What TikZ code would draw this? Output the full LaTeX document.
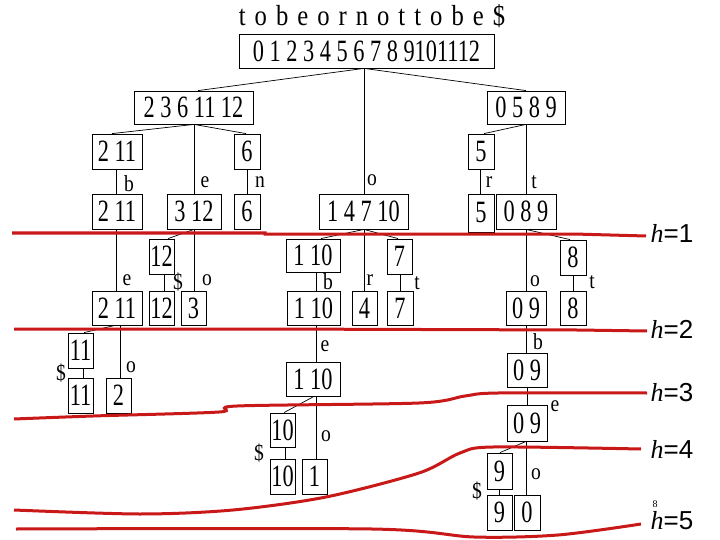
\documentclass[tikz,border=0pt]{standalone}
\usepackage{fontspec}
\setmainfont{Liberation Serif}
\newfontfamily\nf[FakeStretch=0.72]{Liberation Serif}
\newfontfamily\lf[FakeStretch=0.85]{Liberation Serif}
\newfontfamily\hsf{Liberation Sans}
\definecolor{hred}{HTML}{C81818}
\newcommand\tsp{\hspace{9pt}}
\tikzset{
 bxs/.style={draw,inner sep=0pt,font=\nf\fontsize{31}{31}\selectfont,line width=0.8pt},
 lbl/.style={font=\lf\fontsize{23}{23}\selectfont,inner sep=0pt},
 ed/.style={line width=0.7pt},
 hl/.style={hred,line width=3pt},
 hlab/.style={font=\fontsize{26}{26}\selectfont,inner sep=0pt}
}
\newcommand\bx[6]{\node[bxs,minimum width={(#4-#2)*1pt},minimum height={(#5-#3)*1pt}] (#1) at ({(#2+#4)/2},{(#3+#5)/2}) {#6};}
\begin{document}
\begin{tikzpicture}[x=1pt,y=-1pt]
\useasboundingbox (0,0) rectangle (720,540);
\node[inner sep=0pt,font=\lf\fontsize{29}{29}\selectfont] (title) at (372,16) {t\tsp o\tsp b\tsp e\tsp o\tsp r\tsp n\tsp o\tsp t\tsp t\tsp o\tsp b\tsp e\tsp\$};
\bx{root}{239}{34}{494}{68}{0 1 2 3 4 5 6 7 8 9101112}
\bx{A}{134}{91}{253}{124}{2 3 6 11 12}
\bx{B}{487}{91}{565}{124}{0 5 8 9}
\bx{a1}{92}{134}{142}{169}{2 11}
\bx{a6}{234}{134}{260}{169}{6}
\bx{b5}{468}{134}{494}{169}{5}
\bx{c1}{92}{194}{142}{229}{2 11}
\bx{c2}{167}{194}{221}{229}{3 12}
\bx{c3}{234}{194}{260}{229}{6}
\bx{c4}{319}{194}{408}{229}{1 4 7 10}
\bx{c5}{468}{194}{494}{232}{5}
\bx{c6}{496}{194}{556}{229}{0 8 9}
\bx{d1}{149}{239}{174}{274}{12}
\bx{d2}{286}{239}{340}{272}{1 10}
\bx{d3}{387}{239}{412}{274}{7}
\bx{d4}{560}{240}{586}{275}{8}
\bx{e1}{92}{291}{142}{325}{2 11}
\bx{e2}{149}{291}{174}{325}{12}
\bx{e3}{181}{291}{206}{325}{3}
\bx{e4}{287}{291}{340}{325}{1 10}
\bx{e5}{352}{291}{377}{325}{4}
\bx{e6}{387}{291}{413}{325}{7}
\bx{e7}{506}{291}{546}{325}{0 9}
\bx{e8}{560}{291}{586}{325}{8}
\bx{f1}{68}{333}{93}{368}{11}
\bx{f2}{68}{378}{93}{413}{11}
\bx{f3}{106}{378}{131}{413}{2}
\bx{g1}{286}{362}{340}{396}{1 10}
\bx{g2}{270}{413}{295}{447}{10}
\bx{g3}{270}{459}{295}{494}{10}
\bx{g4}{302}{459}{327}{494}{1}
\bx{r1}{507}{353}{547}{387}{0 9}
\bx{r2}{507}{405}{547}{441}{0 9}
\bx{r3}{487}{453}{512}{489}{9}
\bx{r4}{487}{495}{512}{530}{9}
\bx{r5}{514}{495}{540}{530}{0}
% edges
\draw[ed] (root.south -| 364,0) -- (A.north -| 198,0);
\draw[ed] (root.south -| 364,0) -- (B.north -| 526,0);
\draw[ed] (root.south -| 364,0) -- (c4.north -| 364,0);
\draw[ed] (A.south -| 194,0) -- (a1.north -| 112,0);
\draw[ed] (A.south -| 194,0) -- (c2.north -| 194,0);
\draw[ed] (A.south -| 194,0) -- (a6.north -| 246,0);
\draw[ed] (B.south -| 526,0) -- (b5.north -| 484,0);
\draw[ed] (B.south -| 526,0) -- (c6.north -| 526,0);
\draw[ed] (a1.south -| 116,0) -- (c1.north -| 116,0);
\draw[ed] (a6.south -| 247,0) -- (c3.north -| 247,0);
\draw[ed] (b5.south -| 480,0) -- (c5.north -| 480,0);
\draw[ed] (c1.south -| 116,0) -- (e1.north -| 116,0);
\draw[ed] (c2.south -| 194,0) -- (d1.north -| 168,0);
\draw[ed] (c2.south -| 194,0) -- (e3.north -| 194,0);
\draw[ed] (c4.south -| 364,0) -- (d2.north -| 321,0);
\draw[ed] (c4.south -| 364,0) -- (d3.north -| 398,0);
\draw[ed] (c4.south -| 364,0) -- (e5.north -| 364,0);
\draw[ed] (c6.south -| 526,0) -- (d4.north -| 570,0);
\draw[ed] (c6.south -| 526,0) -- (e7.north -| 526,0);
\draw[ed] (d1.south -| 164,0) -- (e2.north -| 164,0);
\draw[ed] (d2.south -| 316,0) -- (e4.north -| 316,0);
\draw[ed] (d3.south -| 400,0) -- (e6.north -| 400,0);
\draw[ed] (d4.south -| 573,0) -- (e8.north -| 573,0);
\draw[ed] (e1.south -| 115,0) -- (f1.north -| 84,0);
\draw[ed] (e1.south -| 120,0) -- (f3.north -| 120,0);
\draw[ed] (f1.south -| 83,0) -- (f2.north -| 83,0);
\draw[ed] (e4.south -| 316,0) -- (g1.north -| 316,0);
\draw[ed] (g1.south -| 314,0) -- (g2.north -| 284,0);
\draw[ed] (g1.south -| 316,0) -- (g4.north -| 316,0);
\draw[ed] (g2.south -| 285,0) -- (g3.north -| 285,0);
\draw[ed] (e7.south -| 526,0) -- (r1.north -| 526,0);
\draw[ed] (r1.south -| 527,0) -- (r2.north -| 527,0);
\draw[ed] (r2.south -| 526,0) -- (r3.north -| 500,0);
\draw[ed] (r2.south -| 526,0) -- (r5.north -| 526,0);
\draw[ed] (r3.south -| 499,0) -- (r4.north -| 499,0);
% edge labels
\node[lbl] (l1) at (129,184) {b};
\node[lbl] (l2) at (205,182) {e};
\node[lbl] (l3) at (260,182) {n};
\node[lbl] (l4) at (372,180) {o};
\node[lbl] (l5) at (489,182) {r};
\node[lbl] (l6) at (534,182) {t};
\node[lbl] (l7) at (127,280) {e};
\node[lbl] (l8) at (178,282) {\$};
\node[lbl] (l9) at (207,280) {o};
\node[lbl] (l10) at (328,282) {b};
\node[lbl] (l11) at (370,280) {r};
\node[lbl] (l12) at (417,283) {t};
\node[lbl] (l13) at (535,281) {o};
\node[lbl] (l14) at (592,282) {t};
\node[lbl] (l15) at (61,373) {\$};
\node[lbl] (l16) at (131,367) {o};
\node[lbl] (l17) at (325,346) {e};
\node[lbl] (l18) at (259,453) {\$};
\node[lbl] (l19) at (326,436) {o};
\node[lbl] (l20) at (538,342) {b};
\node[lbl] (l21) at (555,406) {e};
\node[lbl] (l22) at (477,491) {\$};
\node[lbl] (l23) at (536,474) {o};
% h lines
\draw[hl] (12,233) -- (265,233) -- (265,234) -- (574,234) -- (646,236);
\draw[hl] (14,329) -- (267,329) -- (577,330) -- (647,331);
\draw[hl] plot[smooth,tension=0.5] coordinates {(14,419) (93,416) (219,412) (237,406) (419,403) (465,396) (498,393) (647,393)};
\draw[hl] plot[smooth,tension=0.5] coordinates {(14,510) (140,514) (233,510) (326,497) (419,473) (460,453) (493,447) (641,449)};
\draw[hl] plot[smooth,tension=0.5] coordinates {(16,529) (372,529) (474,537) (558,535) (641,524)};
\node[hlab] (h1) at (672,233) {\textit{h}\hsf=1};
\node[hlab] (h2) at (672,329) {\textit{h}\hsf=2};
\node[hlab] (h3) at (672,393) {\textit{h}\hsf=3};
\node[hlab] (h4) at (672,449) {\textit{h}\hsf=4};
\node[hlab] (h5) at (672,521) {\textit{h}\hsf=5};
\node[font=\fontsize{10}{10}\selectfont,inner sep=0pt] (pg) at (655,504) {8};
\end{tikzpicture}
\end{document}
